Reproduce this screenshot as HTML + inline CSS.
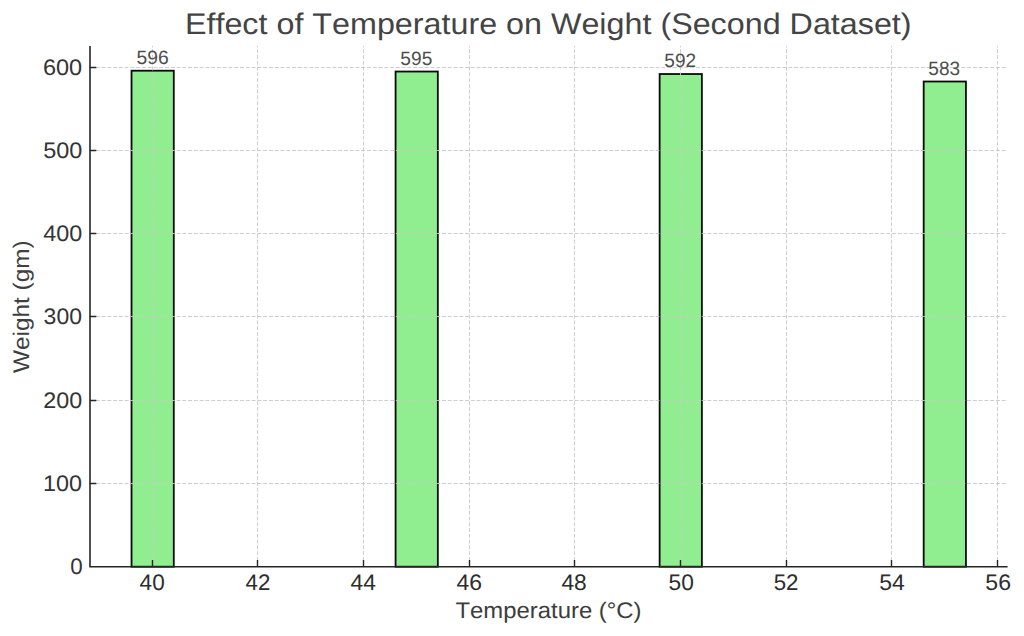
<!DOCTYPE html>
<html><head><meta charset="utf-8"><title>Effect of Temperature on Weight (Second Dataset)</title>
<style>html,body{margin:0;padding:0;background:#fff;width:1024px;height:636px;overflow:hidden}svg{display:block}</style>
</head><body>
<svg width="1024" height="636" viewBox="0 0 1024 636" style="font-kerning:none;font-variant-ligatures:none;text-rendering:geometricPrecision"><rect x="131.53" y="70.71" width="42.25" height="495.99" fill="#90ee90" stroke="#0a0a0a" stroke-width="1.8"/>
<rect x="395.58" y="71.54" width="42.25" height="495.16" fill="#90ee90" stroke="#0a0a0a" stroke-width="1.8"/>
<rect x="659.63" y="74.03" width="42.25" height="492.67" fill="#90ee90" stroke="#0a0a0a" stroke-width="1.8"/>
<rect x="923.68" y="81.52" width="42.25" height="485.18" fill="#90ee90" stroke="#0a0a0a" stroke-width="1.8"/>
<path fill="none" stroke="#c8c8c8" stroke-width="0.9" stroke-dasharray="4 1.77" d="M90.00 483.50H1007.60M90.00 400.50H1007.60M90.00 316.50H1007.60M90.00 233.50H1007.60M90.00 150.50H1007.60M90.00 67.50H1007.60M152.50 566.70V45.90M257.50 566.70V45.90M363.50 566.70V45.90M469.50 566.70V45.90M574.50 566.70V45.90M680.50 566.70V45.90M786.50 566.70V45.90M891.50 566.70V45.90M997.50 566.70V45.90"/>
<path d="M90.00 45.90V566.70H1007.60" stroke="#262626" stroke-width="1.6" fill="none"/>
<path d="M90.00 483.50h6.3M90.00 400.50h6.3M90.00 316.50h6.3M90.00 233.50h6.3M90.00 150.50h6.3M90.00 67.50h6.3M152.50 566.70v-6.6M257.50 566.70v-6.6M363.50 566.70v-6.6M469.50 566.70v-6.6M574.50 566.70v-6.6M680.50 566.70v-6.6M786.50 566.70v-6.6M891.50 566.70v-6.6M997.50 566.70v-6.6" stroke="#262626" stroke-width="1.4" fill="none"/>
<g font-family='"Liberation Sans", sans-serif'><text x="70.20" y="574.00" font-size="22.4" fill="#343434" textLength="12.45" lengthAdjust="spacingAndGlyphs">0</text><text x="43.13" y="491.00" font-size="22.4" fill="#343434" textLength="39.00" lengthAdjust="spacingAndGlyphs">100</text><text x="43.33" y="408.00" font-size="22.4" fill="#343434" textLength="38.92" lengthAdjust="spacingAndGlyphs">200</text><text x="43.62" y="324.00" font-size="22.4" fill="#343434" textLength="38.31" lengthAdjust="spacingAndGlyphs">300</text><text x="43.16" y="241.00" font-size="22.4" fill="#343434" textLength="38.98" lengthAdjust="spacingAndGlyphs">400</text><text x="43.27" y="158.00" font-size="22.4" fill="#343434" textLength="39.12" lengthAdjust="spacingAndGlyphs">500</text><text x="42.96" y="75.00" font-size="22.4" fill="#343434" textLength="39.25" lengthAdjust="spacingAndGlyphs">600</text><text x="139.61" y="590.00" font-size="22.4" fill="#2d2d2d" textLength="25.12" lengthAdjust="spacingAndGlyphs">40</text><text x="245.57" y="590.00" font-size="22.4" fill="#2d2d2d" textLength="24.75" lengthAdjust="spacingAndGlyphs">42</text><text x="350.46" y="590.00" font-size="22.4" fill="#2d2d2d" textLength="25.37" lengthAdjust="spacingAndGlyphs">44</text><text x="456.48" y="590.00" font-size="22.4" fill="#2d2d2d" textLength="25.51" lengthAdjust="spacingAndGlyphs">46</text><text x="561.48" y="590.00" font-size="22.4" fill="#2d2d2d" textLength="25.30" lengthAdjust="spacingAndGlyphs">48</text><text x="668.60" y="590.00" font-size="22.4" fill="#2d2d2d" textLength="25.27" lengthAdjust="spacingAndGlyphs">50</text><text x="773.64" y="590.00" font-size="22.4" fill="#2d2d2d" textLength="24.80" lengthAdjust="spacingAndGlyphs">52</text><text x="879.34" y="590.00" font-size="22.4" fill="#2d2d2d" textLength="25.56" lengthAdjust="spacingAndGlyphs">54</text><text x="985.33" y="590.00" font-size="22.4" fill="#2d2d2d" textLength="25.64" lengthAdjust="spacingAndGlyphs">56</text><text x="136.54" y="64.00" font-size="19.3" fill="#4e4e4e" textLength="32.25" lengthAdjust="spacingAndGlyphs">596</text><text x="400.37" y="65.00" font-size="19.3" fill="#4e4e4e" textLength="31.92" lengthAdjust="spacingAndGlyphs">595</text><text x="664.37" y="67.00" font-size="19.3" fill="#4e4e4e" textLength="31.72" lengthAdjust="spacingAndGlyphs">592</text><text x="928.37" y="75.00" font-size="19.3" fill="#4e4e4e" textLength="31.84" lengthAdjust="spacingAndGlyphs">583</text><text x="455.51" y="618.00" font-size="22.6" fill="#3d3d3d" textLength="186.08" lengthAdjust="spacingAndGlyphs">Temperature (°C)</text><g transform="rotate(-90)"><text x="-373.02" y="29.05" font-size="22.6" fill="#404040" textLength="132.67" lengthAdjust="spacingAndGlyphs">Weight (gm)</text></g><text x="184.94" y="34.00" font-size="29.8" fill="#444" textLength="726.65" lengthAdjust="spacingAndGlyphs">Effect of Temperature on Weight (Second Dataset)</text></g></svg>
</body></html>
